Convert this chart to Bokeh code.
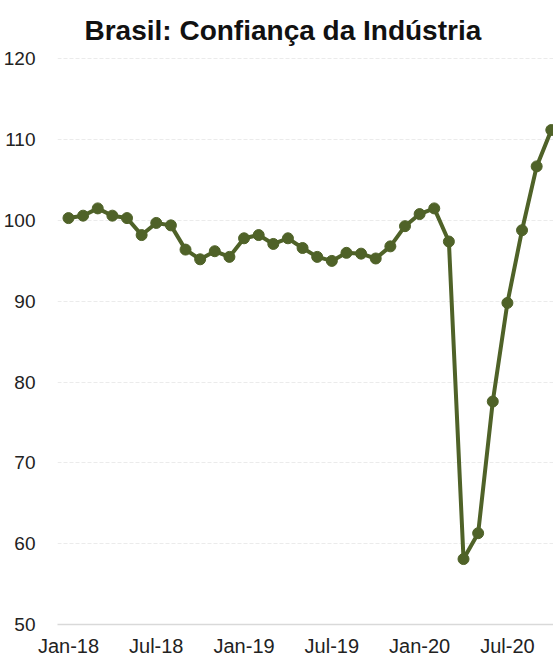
from bokeh.plotting import figure
from bokeh.models import Range1d, FixedTicker, ColumnDataSource
from bokeh.embed import file_html
from bokeh.resources import INLINE

months = ["Jan-18", "Feb-18", "Mar-18", "Apr-18", "May-18", "Jun-18", "Jul-18", "Aug-18",
          "Sep-18", "Oct-18", "Nov-18", "Dec-18", "Jan-19", "Feb-19", "Mar-19", "Apr-19",
          "May-19", "Jun-19", "Jul-19", "Aug-19", "Sep-19", "Oct-19", "Nov-19", "Dec-19",
          "Jan-20", "Feb-20", "Mar-20", "Apr-20", "May-20", "Jun-20", "Jul-20", "Aug-20",
          "Sep-20", "Oct-20"]
values = [100.3, 100.6, 101.5, 100.6, 100.3, 98.2, 99.7, 99.4,
          96.4, 95.2, 96.2, 95.5, 97.8, 98.2, 97.1, 97.8,
          96.6, 95.5, 95.0, 96.0, 95.9, 95.3, 96.8, 99.3,
          100.8, 101.5, 97.4, 58.1, 61.3, 77.6, 89.8, 98.8,
          106.7, 111.2]
tick_labels = ["Jan-18", "Jul-18", "Jan-19", "Jul-19", "Jan-20", "Jul-20"]
y_ticks = [50, 60, 70, 80, 90, 100, 110, 120]

idx = list(range(len(months)))
tick_pos = [months.index(t) for t in tick_labels]
src = ColumnDataSource(data=dict(x=idx, y=values, m=months))

p = figure(width=553, height=659, output_backend="svg", toolbar_location=None,
           x_range=Range1d(-0.75, 33.15), y_range=Range1d(50, 120.3),
           min_border_left=55, min_border_right=0, min_border_bottom=30,
           min_border_top=56)

p.title.text = "Brasil: Confiança da Indústria"
p.title.text_font = "Liberation Sans"
p.title.text_font_style = "bold"
p.title.text_font_size = "28px"
p.title.text_color = "#111111"
p.title.align = "left"
p.title.offset = 27
p.title.standoff = 21

p.outline_line_color = None
p.background_fill_color = "white"
p.border_fill_color = "white"

p.line("x", "y", source=src, line_color="#4f6228", line_width=4)
p.scatter("x", "y", source=src, size=11, fill_color="#4f6228", line_color="#4f6228")

p.xaxis.ticker = FixedTicker(ticks=tick_pos)
p.xaxis.major_label_overrides = {i: m for i, m in zip(tick_pos, tick_labels)}
p.yaxis.ticker = FixedTicker(ticks=y_ticks)

for ax in (p.xaxis, p.yaxis):
    ax.major_tick_line_color = None
    ax.minor_tick_line_color = None
    ax.major_label_text_font = "Liberation Sans"
    ax.major_label_text_color = "#222222"

p.xaxis.axis_line_color = "#d9d9d9"
p.xaxis.axis_line_width = 1.5
p.xaxis.major_label_text_font_size = "20px"
p.xaxis.major_label_standoff = 4
p.yaxis.axis_line_color = None
p.yaxis.major_label_text_font_size = "19px"
p.yaxis.major_label_standoff = 16

p.xgrid.grid_line_color = None
p.ygrid.grid_line_color = "#ebebeb"
p.ygrid.grid_line_dash = "4 2"
p.ygrid.grid_line_width = 1

open("out.html", "w").write(file_html(p, INLINE))
